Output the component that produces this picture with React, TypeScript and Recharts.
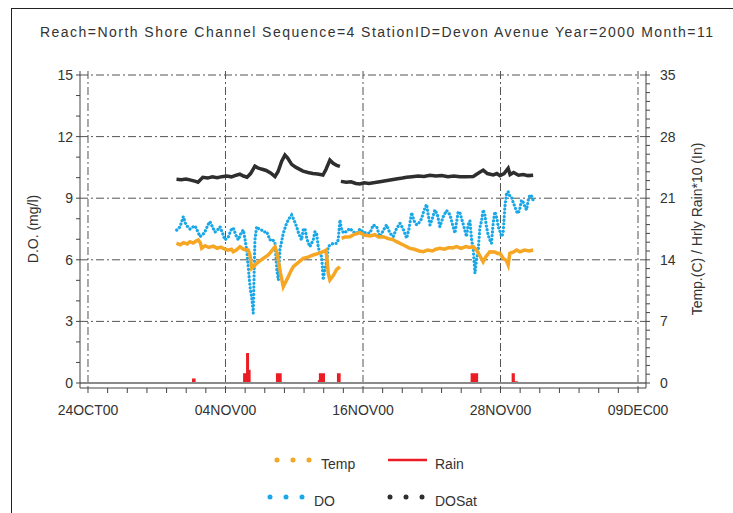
import React from "react";
import { ComposedChart, XAxis, YAxis, CartesianGrid, Line, Area, ReferenceLine } from "recharts";

// x values are days since 24OCT00 00:00
const xTickDays = [0, 11.5, 23, 34.5, 46];
const xTickLabels = ["24OCT00", "04NOV00", "16NOV00", "28NOV00", "09DEC00"];
const doTicks = [0, 3, 6, 9, 12, 15];
const tempTicks = [0, 7, 14, 21, 28, 35];

// D.O. (mg/l)
const doPoints = [
  [7.42, 7.45], [7.69, 7.6], [7.97, 8.1], [8.19, 7.7], [8.53, 7.5], [8.78, 7.6], [8.95, 7.65],
  [9.2, 7.35], [9.36, 7.13], [9.57, 7.2], [9.78, 7.37], [10.03, 7.7], [10.2, 7.86], [10.41, 7.6],
  [10.62, 7.35], [10.83, 7.45], [11.04, 7.61], [11.25, 7.3], [11.45, 6.97], [11.73, 7.1], [11.96, 7.45],
  [12.15, 7.55], [12.37, 7.2], [12.57, 6.97], [12.8, 7.3], [12.99, 7.45], [13.13, 7.0], [13.27, 6.48],
  [13.4, 5.66], [13.5, 5.0], [13.59, 4.5], [13.69, 4.2], [13.82, 3.4], [13.96, 6.97], [14.11, 7.61],
  [14.3, 7.5], [14.52, 7.45], [14.72, 7.35], [14.94, 7.37], [15.22, 6.97], [15.43, 7.0], [15.64, 6.8],
  [15.79, 5.5], [15.92, 5.02], [16.05, 6.48], [16.33, 7.29], [16.61, 7.78], [16.81, 8.0], [17.03, 8.18],
  [17.22, 7.95], [17.45, 7.61], [17.64, 7.25], [17.86, 6.97], [18.0, 7.45], [18.14, 7.53], [18.31, 7.0],
  [18.56, 6.64], [18.84, 6.97], [18.98, 7.37], [19.12, 7.29], [19.25, 6.64], [19.4, 6.3], [19.54, 6.15],
  [19.67, 5.02], [19.82, 5.6], [19.96, 5.9], [20.09, 6.64], [20.32, 6.75], [20.53, 6.8], [20.79, 6.8],
  [20.93, 6.97], [21.07, 7.94], [21.21, 7.45], [21.4, 7.3], [21.66, 7.4], [21.91, 7.53], [22.19, 7.35],
  [22.47, 7.29], [22.74, 7.5], [23.02, 7.35], [23.3, 7.29], [23.58, 7.3], [23.86, 7.7], [24.14, 7.61],
  [24.41, 7.13], [24.67, 7.4], [24.97, 7.7], [25.25, 7.3], [25.53, 7.13], [25.79, 7.5], [26.09, 7.78],
  [26.36, 7.5], [26.65, 7.05], [26.84, 7.5], [27.07, 8.3], [27.26, 7.9], [27.49, 7.7], [27.68, 7.8],
  [27.9, 8.0], [28.09, 8.4], [28.32, 8.7], [28.45, 8.2], [28.6, 7.7], [28.8, 8.0], [29.01, 8.43],
  [29.22, 8.2], [29.43, 7.61], [29.71, 8.1], [29.99, 8.4], [30.27, 8.2], [30.54, 7.61], [30.69, 7.3],
  [30.96, 8.34], [31.1, 8.3], [31.35, 7.8], [31.66, 7.13], [31.79, 7.7], [31.94, 7.9], [32.08, 7.0],
  [32.22, 6.5], [32.36, 5.34], [32.5, 6.0], [32.64, 6.48], [32.78, 7.6], [32.92, 7.9], [33.05, 8.43],
  [33.19, 8.2], [33.33, 7.6], [33.47, 7.2], [33.61, 6.97], [33.75, 6.8], [33.89, 7.8], [34.03, 8.34],
  [34.2, 8.0], [34.31, 7.61], [34.45, 7.4], [34.59, 7.13], [34.72, 7.29], [34.87, 8.59], [35.0, 9.2],
  [35.14, 9.32], [35.28, 9.1], [35.42, 9.05], [35.56, 8.8], [35.7, 8.59], [35.84, 8.35], [35.98, 8.26],
  [36.12, 8.5], [36.26, 8.91], [36.4, 8.8], [36.54, 8.59], [36.68, 8.43], [36.82, 8.9], [36.96, 9.16],
  [37.1, 9.1], [37.23, 8.9],
];

// Temp (C), null = gap in record
const tempPoints = [
  [7.4, 15.9], [7.7, 15.7], [8.0, 15.95], [8.3, 15.8], [8.53, 16.06], [8.8, 15.9], [9.0, 16.1],
  [9.22, 16.25], [9.4, 15.9], [9.51, 15.3], [9.8, 15.6], [10.1, 15.4], [10.48, 15.55], [10.8, 15.3],
  [11.1, 15.45], [11.31, 15.3], [11.7, 15.1], [12.0, 15.2], [12.15, 14.92], [12.4, 15.1], [12.71, 15.49],
  [13.0, 15.2], [13.4, 15.11], [13.55, 14.5], [13.69, 13.03], [13.9, 13.3], [14.11, 13.6], [14.4, 13.9],
  [14.66, 14.17], [15.08, 14.55], [15.3, 14.9], [15.64, 15.49], [15.8, 14.8], [15.91, 13.98], [16.1, 12.5],
  [16.33, 10.94], [16.5, 11.4], [16.75, 12.08], [17.0, 12.8], [17.17, 13.22], [17.5, 13.6], [18.0, 14.17],
  [18.4, 14.3], [18.84, 14.55], [19.2, 14.7], [19.67, 14.92], [19.9, 15.1], [20.0, 14.0], [20.09, 12.47],
  [20.23, 11.7], [20.51, 12.2], [20.8, 12.9], [21.07, 13.2], [21.12, null], [21.21, 16.44], [21.5, 16.6],
  [21.91, 16.63], [22.3, 16.9], [22.74, 17.08], [23.1, 16.8], [23.58, 16.7], [24.0, 16.85], [24.3, 16.6],
  [24.69, 16.63], [25.1, 16.4], [25.5, 16.3], [25.81, 16.06], [26.2, 15.8], [26.5, 15.6], [26.92, 15.3],
  [27.3, 15.2], [27.7, 15.0], [28.04, 14.92], [28.4, 15.1], [28.8, 15.0], [29.1, 15.2], [29.43, 15.3],
  [29.8, 15.2], [30.2, 15.4], [30.5, 15.35], [30.83, 15.49], [31.2, 15.3], [31.6, 15.5], [31.9, 15.4],
  [32.22, 15.49], [32.5, 15.1], [32.8, 14.4], [33.05, 13.78], [33.3, 14.4], [33.61, 14.92], [34.0, 14.9],
  [34.3, 14.7], [34.45, 14.74], [34.72, 14.17], [35.0, 13.9], [35.14, 13.41], [35.28, 14.74], [35.6, 14.9],
  [35.84, 15.11], [36.12, 14.9], [36.5, 15.1], [36.9, 15.0], [37.23, 15.11],
];

// DO saturation (mg/l)
const dosatPoints = [
  [7.4, 9.92], [7.8, 9.9], [8.2, 9.93], [8.6, 9.88], [9.0, 9.82], [9.2, 9.78], [9.6, 10.02], [10.0, 9.98],
  [10.4, 10.04], [10.8, 10.0], [11.2, 10.05], [11.6, 10.08], [12.0, 10.04], [12.4, 10.12], [12.7, 10.17],
  [13.0, 10.08], [13.3, 10.02], [13.6, 10.2], [13.96, 10.56], [14.2, 10.48], [14.5, 10.42], [14.9, 10.35],
  [15.3, 10.22], [15.64, 10.05], [15.9, 10.3], [16.2, 10.8], [16.47, 11.1], [16.7, 10.95], [17.03, 10.65],
  [17.4, 10.5], [17.98, 10.32], [18.4, 10.25], [18.8, 10.2], [19.2, 10.18], [19.65, 10.13], [19.9, 10.4],
  [20.23, 10.86], [20.5, 10.7], [20.8, 10.6], [21.07, 10.55], [21.1, null], [21.15, 9.82], [21.6, 9.78],
  [22.0, 9.8], [22.4, 9.72], [22.74, 9.69], [23.1, 9.75], [23.5, 9.72], [24.0, 9.76], [24.41, 9.8],
  [24.9, 9.85], [25.4, 9.9], [25.9, 9.95], [26.3, 9.98], [26.65, 10.02], [27.1, 10.05], [27.6, 10.08],
  [28.1, 10.06], [28.6, 10.12], [29.1, 10.08], [29.6, 10.1], [30.1, 10.05], [30.6, 10.08], [31.1, 10.04],
  [31.6, 10.05], [32.22, 10.06], [32.6, 10.2], [33.05, 10.37], [33.4, 10.2], [33.89, 10.13], [34.2, 10.2],
  [34.45, 10.1], [34.8, 10.2], [35.14, 10.46], [35.3, 10.15], [35.6, 10.25], [36.0, 10.12], [36.4, 10.15],
  [36.8, 10.1], [37.23, 10.12],
];

// Hourly rain * 10 (in), step values
const rainPoints = [
  [7.4, 0], [8.7, 0.5], [9.0, 0], [12.97, 1.1], [13.22, 3.4], [13.47, 1.5], [13.6, 0],
  [15.72, 1.1], [16.2, 0], [19.22, 0.3], [19.31, 1.1], [19.82, 0], [20.82, 1.1], [21.13, 0],
  [32.0, 1.1], [32.63, 0], [35.43, 1.1], [35.7, 0.2], [35.95, 0], [37.3, 0],
];

const doData = doPoints.map(([d, v]) => ({ d, v }));
const tempData = tempPoints.map(([d, t]) => ({ d, t }));
const dosatData = dosatPoints.map(([d, s]) => ({ d, s }));
const rainData = rainPoints.map(([d, r]) => ({ d, r }));

const xTicks = Array.from({ length: 29 }, (_, i) => (i * 11.5) / 7);
const doMinor = Array.from({ length: 16 }, (_, i) => i);
const tempMinor = Array.from({ length: 36 }, (_, i) => i);

const xDomain = [-0.669, 46.669];
const fmtX = (v: number) => {
  const i = xTickDays.findIndex((t) => Math.abs(t - v) < 1e-6);
  return i >= 0 ? xTickLabels[i] : "";
};

const ORANGE = "#f6a623";
const BLUE = "#1aa7e8";
const DARK = "#2e2e2e";
const RED = "#ec1c24";
const FRAME = "#444";

export default function App() {
  return (
    <div
      style={{
        position: "absolute",
        left: 0,
        top: 0,
        width: 733,
        height: 513,
        overflow: "hidden",
        background: "#fff",
        fontFamily: "'Liberation Sans', Arial, sans-serif",
      }}
    >
      <div
        style={{
          position: "absolute",
          left: 11,
          top: 8,
          width: 740,
          height: 520,
          borderLeft: "1.5px solid #222",
          borderTop: "1.5px solid #222",
        }}
      />
      <ComposedChart width={733} height={513} margin={{ top: 71, right: 10, bottom: 95, left: 10 }}>
        <XAxis
          xAxisId="b"
          type="number"
          dataKey="d"
          domain={xDomain}
          allowDataOverflow
          ticks={xTicks}
          interval={0}
          tickFormatter={fmtX}
          tickSize={5}
          tickMargin={12}
          stroke={FRAME}
          tick={{ fill: "#333", fontSize: 14 }}
          height={30}
        />
        <XAxis xAxisId="t" orientation="top" type="number" domain={xDomain} allowDataOverflow tick={false} tickLine={false} stroke={FRAME} height={0} />
        <YAxis
          yAxisId="l"
          type="number"
          domain={[-0.2435, 15.195]}
          allowDataOverflow
          ticks={doMinor}
          interval={0}
          tickFormatter={(v: number) => (doTicks.includes(v) ? String(v) : "")}
          tickSize={4}
          tickMargin={3}
          stroke={FRAME}
          tick={{ fill: "#333", fontSize: 14 }}
          width={70}
        />
        <YAxis
          yAxisId="r"
          orientation="right"
          type="number"
          domain={[-0.568, 35.455]}
          allowDataOverflow
          ticks={tempMinor}
          interval={0}
          tickFormatter={(v: number) => (tempTicks.includes(v) ? String(v) : "")}
          tickSize={4}
          tickMargin={10}
          stroke={FRAME}
          tick={{ fill: "#333", fontSize: 14 }}
          width={77}
        />
        <CartesianGrid
          xAxisId="b"
          yAxisId="l"
          horizontalValues={[3, 6, 9, 12, 15]}
          verticalValues={xTickDays}
          stroke="#555"
          strokeDasharray="8 3 2 3"
        />
        <Area
          data={rainData}
          xAxisId="b"
          yAxisId="r"
          dataKey="r"
          type="stepAfter"
          baseValue={0}
          stroke="none"
          fill={RED}
          fillOpacity={1}
          isAnimationActive={false}
        />
        <ReferenceLine xAxisId="b" yAxisId="l" y={0} stroke="#8a8a8a" strokeWidth={2} />
        <Line
          data={doData}
          xAxisId="b"
          yAxisId="l"
          dataKey="v"
          type="linear"
          stroke={BLUE}
          strokeWidth={3.2}
          strokeDasharray="0.1 3.6"
          strokeLinecap="round"
          dot={false}
          activeDot={false}
          isAnimationActive={false}
        />
        <Line
          data={tempData}
          xAxisId="b"
          yAxisId="r"
          dataKey="t"
          type="linear"
          stroke={ORANGE}
          strokeWidth={3.5}
          dot={false}
          activeDot={false}
          isAnimationActive={false}
        />
        <Line
          data={dosatData}
          xAxisId="b"
          yAxisId="l"
          dataKey="s"
          type="linear"
          stroke={DARK}
          strokeWidth={3.5}
          dot={false}
          activeDot={false}
          isAnimationActive={false}
        />
      </ComposedChart>
      <svg width={733} height={513} style={{ position: "absolute", left: 0, top: 0, pointerEvents: "none" }}>
        <text x={40} y={37} fontSize={14} fill="#333" textLength={673} lengthAdjust="spacing">
          Reach=North Shore Channel Sequence=4 StationID=Devon Avenue Year=2000 Month=11
        </text>
        <text x={38} y={229} fontSize={14} fill="#333" textAnchor="middle" transform="rotate(-90 38 229)">
          D.O. (mg/l)
        </text>
        <text x={702} y={229} fontSize={14} fill="#333" textAnchor="middle" transform="rotate(-90 702 229)">
          Temp.(C) / Hrly Rain*10 (In)
        </text>
        {[277, 293, 309].map((x) => (
          <circle key={"t" + x} cx={x} cy={460} r={2.5} fill={ORANGE} />
        ))}
        <text x={321} y={469} fontSize={14} fill="#333">Temp</text>
        <line x1={388} y1={460} x2={427} y2={460} stroke={RED} strokeWidth={2.5} />
        <text x={435} y={469} fontSize={14} fill="#333">Rain</text>
        {[270, 286, 302].map((x) => (
          <circle key={"d" + x} cx={x} cy={497} r={2.5} fill={BLUE} />
        ))}
        <text x={314} y={506} fontSize={14} fill="#333">DO</text>
        {[390, 406, 422].map((x) => (
          <circle key={"s" + x} cx={x} cy={497} r={2.5} fill={DARK} />
        ))}
        <text x={435} y={506} fontSize={14} fill="#333">DOSat</text>
      </svg>
    </div>
  );
}
